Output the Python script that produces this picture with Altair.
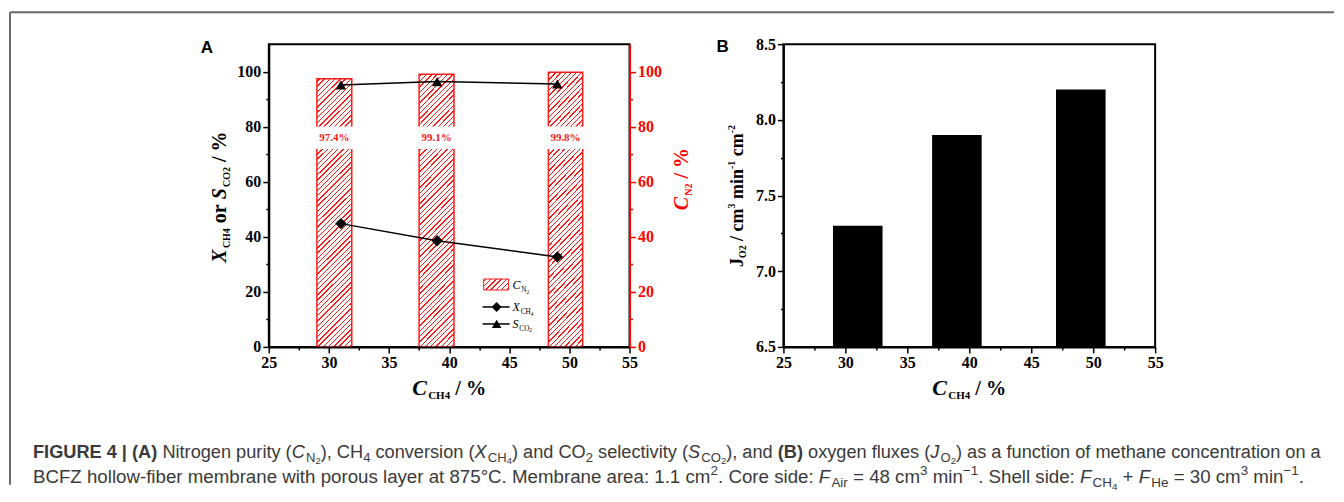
import altair as alt
import pandas as pd

# ---------------- values ----------------
# Panel A
ch4_conc = [31, 39, 49]              # C_CH4 (%) of the measured points
x_ch4 = [44.8, 38.6, 32.7]           # X_CH4 (%)
s_co2 = [95.2, 96.4, 95.5]           # S_CO2 (%)
cn2_left = [29.0, 37.5, 48.25]       # C_N2 bar edges (C_CH4 units)
cn2_right = [31.9, 40.4, 51.1]
c_n2 = [97.4, 99.1, 99.8]            # C_N2 (%)
c_n2_labels = ["97.4%", "99.1%", "99.8%"]
# Panel B
jo2_left = [29, 37, 47]
jo2_right = [33, 41, 51]
j_o2 = [7.3, 7.9, 8.2]
# axes
x_domain = [25, 55]
x_major = [25, 30, 35, 40, 45, 50, 55]
x_minor = [27.5, 32.5, 37.5, 42.5, 47.5, 52.5]
ya_domain = [0, 110]
ya_major = [0, 20, 40, 60, 80, 100]
ya_minor = [10, 30, 50, 70, 90]
yb_domain = [6.5, 8.5]
yb_major = [6.5, 7.0, 7.5, 8.0, 8.5]
yb_minor = [6.75, 7.25, 7.75, 8.25]

# ---------------- layout / style ----------------
A_LEFT, A_TOP, A_W, A_H = 268, 43, 361, 303
B_LEFT, B_W = 783, 372
GAP = B_LEFT - (A_LEFT + A_W)
C_OX, C_OY = A_LEFT, A_TOP
RED = "#ff1a1a"
SERIF = "Liberation Serif"
SANS = "Liberation Sans"
CAP_COLOR = "#3a3a3a"
LABEL_Y, LABEL_LO, LABEL_HI = 76, 72.6, 79.4


def hatch(w, h, period=5.3, frac=0.26, color=RED):
    n = max(1, round((w + h) / period))
    iw, ih = 1.0 / w, 1.0 / h
    k = (ih + iw) / (ih * ih + iw * iw)
    stops = []
    for i in range(n):
        c = (i + 0.5) / n
        lo, hi = round(c - frac / (2 * n), 5), round(c + frac / (2 * n), 5)
        stops += [alt.GradientStop(offset=lo, color="white"),
                  alt.GradientStop(offset=lo, color=color),
                  alt.GradientStop(offset=hi, color=color),
                  alt.GradientStop(offset=hi, color="white")]
    return alt.LinearGradient(gradient="linear", stops=stops,
                              x1=0, y1=0, x2=k * ih, y2=k * iw)


def ax(values, orient, color="black", size=6, labels=True, domain=True, fmt=None):
    kw = dict(values=values, orient=orient, title=None, grid=False, ticks=True,
              tickSize=size, tickColor=color, tickWidth=1.5, domain=domain,
              domainColor=color, domainWidth=2, labels=labels, labelFont=SERIF,
              labelFontWeight="bold", labelFontSize=16, labelColor=color,
              labelPadding=2, labelFlush=False, labelOverlap=False, zindex=1)
    if fmt:
        kw["format"] = fmt
    return alt.Axis(**kw)


xs = alt.Scale(domain=x_domain, nice=False, zero=False)
ysa = alt.Scale(domain=ya_domain, nice=False, zero=False)
ysb = alt.Scale(domain=yb_domain, nice=False, zero=False)

# ---------------- panel A ----------------
dfa_bar = pd.DataFrame({"x0": cn2_left, "x1": cn2_right, "cn2": c_n2, "lbl": c_n2_labels})
dfa_pts = pd.DataFrame({"c": ch4_conc, "X": x_ch4, "S": s_co2})
one = pd.DataFrame({"k": [0]})

bar_w = (cn2_right[0] - cn2_left[0]) * A_W / (x_domain[1] - x_domain[0])
bar_h = 98 * A_H / ya_domain[1]

bars_a = alt.Chart(dfa_bar).mark_rect(fill=hatch(bar_w, bar_h), stroke=RED, strokeWidth=1.5).encode(
    x=alt.X("x0:Q", scale=xs, axis=ax(x_major, "bottom")),
    x2="x1:Q",
    y=alt.Y("cn2:Q", scale=ysa, axis=ax(ya_major, "right", color="#ff0000")),
    y2=alt.Y2Datum(ya_domain[0]),
)
boxes_a = alt.Chart(dfa_bar).mark_rect(fill="white", stroke="white", strokeWidth=4).encode(
    x=alt.X("x0:Q", scale=xs, axis=None), x2="x1:Q",
    y=alt.YDatum(LABEL_LO, scale=ysa, axis=None), y2=alt.Y2Datum(LABEL_HI),
)
labels_a = alt.Chart(dfa_bar).transform_calculate(xm="(datum.x0 + datum.x1) / 2").mark_text(
    color=RED, font=SERIF, fontWeight="bold", fontSize=11).encode(
    x=alt.X("xm:Q", scale=xs, axis=None),
    y=alt.YDatum(LABEL_Y, scale=ysa, axis=None),
    text="lbl:N",
)
line_x = alt.Chart(dfa_pts).mark_line(color="black", strokeWidth=1.5).encode(
    x=alt.X("c:Q", scale=xs, axis=None),
    y=alt.Y("X:Q", scale=ysa, axis=ax(ya_major, "left")),
)
line_s = alt.Chart(dfa_pts).mark_line(color="black", strokeWidth=1.5).encode(
    x=alt.X("c:Q", scale=xs, axis=None), y=alt.Y("S:Q", scale=ysa, axis=None))
pts_x = alt.Chart(dfa_pts).mark_point(shape="diamond", filled=True, color="black", size=130, opacity=1).encode(
    x=alt.X("c:Q", scale=xs, axis=None), y=alt.Y("X:Q", scale=ysa, axis=None))
pts_s = alt.Chart(dfa_pts).mark_point(shape="triangle-up", filled=True, color="black", size=110, opacity=1).encode(
    x=alt.X("c:Q", scale=xs, axis=None), y=alt.Y("S:Q", scale=ysa, axis=None))
minor_a = alt.Chart(dfa_pts).mark_point(opacity=0).encode(
    x=alt.X("c:Q", scale=xs, axis=ax(x_minor, "bottom", size=3, labels=False, domain=False)),
    y=alt.Y("X:Q", scale=ysa, axis=ax(ya_minor, "left", size=3, labels=False, domain=False)),
)
minor_ar = alt.Chart(dfa_pts).mark_point(opacity=0).encode(
    x=alt.X("c:Q", scale=xs, axis=None),
    y=alt.Y("S:Q", scale=ysa, axis=ax(ya_minor, "right", color="#ff0000", size=3, labels=False, domain=False)),
)
# legend (inside plot, pixel positions)
leg_rect = alt.Chart(one).mark_rect(fill=hatch(25, 11), stroke=RED, strokeWidth=1).encode(
    x=alt.value(215), x2=alt.value(240), y=alt.value(235), y2=alt.value(246))
leg_l1 = alt.Chart(one).mark_rule(color="black", strokeWidth=1.5).encode(
    x=alt.value(214), x2=alt.value(241), y=alt.value(263))
leg_p1 = alt.Chart(one).mark_point(shape="diamond", filled=True, color="black", size=100, opacity=1).encode(
    x=alt.value(228), y=alt.value(263))
leg_l2 = alt.Chart(one).mark_rule(color="black", strokeWidth=1.5).encode(
    x=alt.value(214), x2=alt.value(241), y=alt.value(280))
leg_p2 = alt.Chart(one).mark_point(shape="triangle-up", filled=True, color="black", size=90, opacity=1).encode(
    x=alt.value(228), y=alt.value(280))

panel_a = alt.layer(
    bars_a, boxes_a, labels_a, line_x, line_s, pts_x, pts_s, minor_a, minor_ar,
    leg_rect, leg_l1, leg_p1, leg_l2, leg_p2,
).resolve_axis(x="independent", y="independent").properties(
    width=A_W, height=A_H, view=alt.ViewBackground(stroke="black", strokeWidth=2))

# ---------------- panel B ----------------
dfb = pd.DataFrame({"x0": jo2_left, "x1": jo2_right, "j": j_o2})
bars_b = alt.Chart(dfb).mark_rect(color="black").encode(
    x=alt.X("x0:Q", scale=xs, axis=ax(x_major, "bottom")),
    x2="x1:Q",
    y=alt.Y("j:Q", scale=ysb, axis=ax(yb_major, "left", fmt=".1f")),
    y2=alt.Y2Datum(yb_domain[0]),
)
minor_b = alt.Chart(dfb).mark_point(opacity=0).encode(
    x=alt.X("x0:Q", scale=xs, axis=ax(x_minor, "bottom", size=3, labels=False, domain=False)),
    y=alt.Y("j:Q", scale=ysb, axis=ax(yb_minor, "left", size=3, labels=False, domain=False)),
)
panel_b = alt.layer(bars_b, minor_b).resolve_axis(x="independent", y="independent").properties(
    width=B_W, height=A_H, view=alt.ViewBackground(stroke="black", strokeWidth=2))

# ---------------- rich text (titles, caption) ----------------
def _tbl(pairs):
    d = {}
    for chars, w in pairs:
        for ch in chars:
            d[ch] = w
    return d


SANS_R = _tbl([("ijl", 222), (" !,./:;ftI", 278), ("r()-", 333), ("|", 260), ("°", 400),
               ("Jckvxyzs", 500), ("abdeghnopqu0123456789L", 556), ("+=−", 584),
               ("FTZ", 611), ("ABEKPSVXY", 667), ("CDHNRUw", 722), ("GOQ", 778),
               ("mM", 833), ("W", 944), ("%", 889)])
SANS_B = _tbl([(" I", 278), ("()", 333), ("|", 280), ("0123456789", 556), ("F", 611),
               ("E", 667), ("ABRU", 722), ("G", 778)])
SERIF_B = _tbl([(" .,", 250), ("/", 278), ("()-", 333), ("%", 1000), ("0123456789ao", 500),
                ("cer", 444), ("i", 278), ("n", 556), ("m", 833), ("J", 500), ("S", 556),
                ("CNX", 722), ("HO", 778)])
SERIF_BI = _tbl([("CXF", 667), ("S", 556), ("J", 500)])
SERIF_R = _tbl([("C", 667), ("HNO", 722), ("0123456789", 500)])
SERIF_I = _tbl([("C", 667), ("X", 611), ("S", 500)])


def width_of(text, fam, w, s):
    tot = 0
    for ch in text:
        if fam == SANS:
            tbl = SANS_B if w == "bold" else SANS_R
            tot += tbl.get(ch, SANS_R.get(ch, 556))
        else:
            if w == "bold" and s == "italic":
                tbl = SERIF_BI
            elif w == "bold":
                tbl = SERIF_B
            elif s == "italic":
                tbl = SERIF_I
            else:
                tbl = SERIF_R
            tot += tbl.get(ch, SERIF_B.get(ch, 500))
    total = tot / 1000.0
    if s == "italic":
        total += 0.06
    return total


def S(t, w="normal", s="normal", k=1.0, dy=0.0):
    return (t, w, s, k, dy)


def rich(segs, fam, base, x, y, anchor="start", angle=0, color="black"):
    total = sum(width_of(t, fam, w, s) * base * k for t, w, s, k, dy in segs)
    adv = {"start": 0.0, "middle": -total / 2, "end": -total}[anchor]
    rows = []
    for t, w, s, k, dy in segs:
        fs = base * k
        lead = len(t) - len(t.lstrip(" "))
        a = adv + (width_of(" " * lead, fam, w, "normal") * fs if lead else 0.0)
        body = t.strip(" ")
        if body:
            if angle == 0:
                px, py = x + a, y + dy * base
            else:
                px, py = x + dy * base, y - a
            rows.append(dict(x=px - C_OX, y=py - C_OY, t=body, fs=fs, fam=fam,
                             w=w, s=s, color=color, angle=angle))
        adv += width_of(t, fam, w, s) * fs
    return rows


def line_width(segs, fam):
    return sum(width_of(t, fam, w, s) * k for t, w, s, k, dy in segs)


rows = []
# panel letters
rows += rich([S("A", w="bold")], SANS, 17, 200, 52)
rows += rich([S("B", w="bold")], SANS, 17, 716, 51)
# x titles
xt = [S("C", "bold", "italic"), S("CH4", "bold", k=0.5, dy=0.2), S(" / %", "bold", k=0.92)]
rows += rich(xt, SERIF, 22, A_LEFT + A_W / 2, 394, anchor="middle")
rows += rich(xt, SERIF, 22, B_LEFT + B_W / 2, 394, anchor="middle")
# y titles
rows += rich([S("X", "bold", "italic"), S("CH4", "bold", k=0.5, dy=0.2), S(" or ", "bold"),
              S("S", "bold", "italic"), S("CO2", "bold", k=0.5, dy=0.2), S(" / %", "bold")],
             SERIF, 20, 225, 196, anchor="middle", angle=270)
rows += rich([S("C", "bold", "italic"), S("N2", "bold", k=0.5, dy=0.2), S(" / %", "bold")],
             SERIF, 20, 688, 178, anchor="middle", angle=270, color="#ff0000")
rows += rich([S("J", "bold"), S("O2", "bold", k=0.55, dy=0.12), S(" / cm", "bold"),
              S("3", "bold", k=0.55, dy=-0.45), S(" min", "bold"), S("-1", "bold", k=0.55, dy=-0.45),
              S(" cm", "bold"), S("-2", "bold", k=0.55, dy=-0.45)],
             SERIF, 18, 743, 195, anchor="middle", angle=270)
# legend labels
rows += rich([S("C", s="italic"), S("N", k=0.6, dy=0.25), S("2", k=0.45, dy=0.38)], SERIF, 12, 512, 288)
rows += rich([S("X", s="italic"), S("CH", k=0.6, dy=0.25), S("4", k=0.45, dy=0.38)], SERIF, 12, 512, 310)
rows += rich([S("S", s="italic"), S("CO", k=0.6, dy=0.25), S("2", k=0.45, dy=0.38)], SERIF, 12, 512, 327)


def SUB(t):
    return S(t, k=0.72, dy=0.24)


def SSUB(t):
    return S(t, k=0.52, dy=0.36)


def SUP(t):
    return S(t, k=0.72, dy=-0.4)


cap1 = [S("FIGURE 4 | (A)", "bold"), S(" Nitrogen purity ("), S("C", s="italic"), SUB("N"), SSUB("2"),
        S("), CH"), SUB("4"), S(" conversion ("), S("X", s="italic"), SUB("CH"), SSUB("4"),
        S(") and CO"), SUB("2"), S(" selectivity ("), S("S", s="italic"), SUB("CO"), SSUB("2"),
        S("), and "), S("(B)", "bold"), S(" oxygen fluxes ("), S("J", s="italic"), SUB("O"), SSUB("2"),
        S(") as a function of methane concentration on a")]
cap2 = [S("BCFZ hollow-fiber membrane with porous layer at 875°C. Membrane area: 1.1 cm"), SUP("2"),
        S(". Core side: "), S("F", s="italic"), SUB("Air"), S(" = 48 cm"), SUP("3"), S(" min"), SUP("−1"),
        S(". Shell side: "), S("F", s="italic"), SUB("CH"), SSUB("4"), S(" + "), S("F", s="italic"), SUB("He"),
        S(" = 30 cm"), SUP("3"), S(" min"), SUP("−1"), S(".")]
CAP_X0, CAP_X1, CAP2_X1 = 32, 1321, 1304
cap_fs1 = (CAP_X1 - CAP_X0) / line_width(cap1, SANS)
cap_fs2 = min((CAP2_X1 - CAP_X0) / line_width(cap2, SANS), cap_fs1 * 1.04)
rows += rich(cap1, SANS, cap_fs1, CAP_X0, 457, color=CAP_COLOR)
rows += rich(cap2, SANS, cap_fs2, CAP_X0, 482, color=CAP_COLOR)

texts = pd.DataFrame(rows)
text_layers = []
for (fam, w, s, color, angle), g in texts.groupby(["fam", "w", "s", "color", "angle"]):
    text_layers.append(
        alt.Chart(g[["x", "y", "t", "fs"]].reset_index(drop=True)).mark_text(
            font=fam, fontWeight=w, fontStyle=s, color=color, angle=int(angle),
            align="left", baseline="alphabetic").encode(
            x=alt.X("x:Q", scale=None, axis=None),
            y=alt.Y("y:Q", scale=None, axis=None),
            size=alt.Size("fs:Q", scale=None, legend=None),
            text="t:N",
        )
    )

frame = pd.DataFrame({
    "x": [9 - C_OX, 9 - C_OX], "y": [11 - C_OY, 11 - C_OY],
    "x2": [1334 - C_OX, 9 - C_OX], "y2": [11 - C_OY, 484 - C_OY],
})
frame_rule = alt.Chart(frame).mark_rule(color="#6a6a6a", strokeWidth=2).encode(
    x=alt.X("x:Q", scale=None, axis=None), y=alt.Y("y:Q", scale=None, axis=None),
    x2="x2:Q", y2="y2:Q")

overlay = alt.layer(frame_rule, *text_layers).properties(width=10, height=1)

top = alt.hconcat(panel_a, panel_b, spacing=GAP, bounds="flush")
chart = alt.vconcat(top, overlay, spacing=0, bounds="flush").properties(
    padding={"left": 0, "top": 2, "right": 0, "bottom": 0}
).configure_view(stroke="transparent")

chart.save("out.html", embed_options={"renderer": "svg", "actions": False})
